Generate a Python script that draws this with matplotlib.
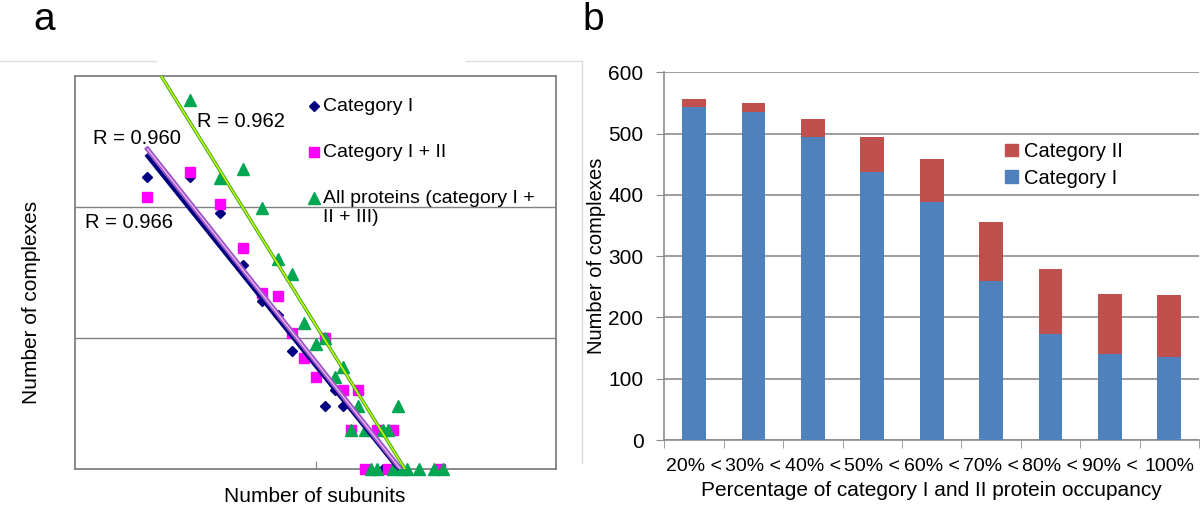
import numpy as np
import matplotlib
matplotlib.use('Agg')
import matplotlib.pyplot as plt
from matplotlib.lines import Line2D
from matplotlib.patches import Patch

plt.rcParams['font.family'] = ['Liberation Sans', 'DejaVu Sans']

# panel a: number of complexes vs number of subunits (log-log)
cat1_x = [2, 3, 4, 5, 6, 7, 8, 11, 12, 13, 16, 19, 22]
cat1_y = [170, 170, 90, 36, 19, 15, 8, 3, 4, 3, 1, 1, 1]
cat12_x = [2, 3, 4, 5, 6, 7, 8, 9, 10, 11, 13, 14, 15, 16, 18, 20, 21, 33]
cat12_y = [119, 186, 106, 49, 22, 21, 11, 7, 5, 10, 4, 2, 4, 1, 2, 1, 2, 1]
all_x = [3, 4, 5, 6, 7, 8, 9, 10, 11, 12, 13, 14, 15, 16, 17, 18, 19, 20,
         21, 22, 23, 24, 27, 31, 34]
all_y = [656, 167, 195, 99, 40, 31, 13, 9, 10, 5, 6, 2, 3, 2, 1, 1, 2, 2,
         1, 3, 1, 1, 1, 1, 1]

# power trendlines y = 10**loga * x**b
fit_loga = [3.078, 3.142, 4.061]
fit_b = [-2.288, -2.322, -2.96]
fit_r = ['R = 0.966', 'R = 0.960', 'R = 0.962']

# panel b: stacked bars
occ_labels = ['20% <', '30% <', '40% <', '50% <', '60% <', '70% <', '80% <',
              '90% <', '100%']
cat1_n = [543, 535, 494, 437, 389, 259, 173, 140, 136]
cat2_n = [13, 15, 30, 57, 69, 96, 106, 99, 100]

W, H = 1200, 508
fig = plt.figure(figsize=(12, 5.08), dpi=100)

# ---------------- panel a ----------------
ax = fig.add_axes([75 / W, 1 - 469 / H, 481 / W, 393 / H])
ax.set_xscale('log')
ax.set_yscale('log')
ax.set_xlim(1, 100)
ax.set_ylim(1, 1000)

navy, mag, grn = '#000080', '#ff00ff', '#00a651'
ax.plot(cat1_x, cat1_y, 'D', color=navy, ms=5.5, ls='none', clip_on=False, zorder=3)
ax.plot(cat12_x, cat12_y, 's', color=mag, ms=6.8, ls='none', clip_on=False, zorder=4)
ax.plot(all_x, all_y, '^', color=grn, ms=8.5, ls='none', clip_on=False, zorder=5)

xs = np.logspace(np.log10(2), np.log10(40), 200)
lines = [10 ** (a + b * np.log10(xs)) for a, b in zip(fit_loga, fit_b)]
ax.plot(xs, lines[0], color=navy, lw=3, zorder=6)
ax.plot(xs, lines[1], color='#9b59c6', lw=3.5, zorder=6)
ax.plot(xs, lines[1], color='#ffc0ff', lw=0.8, zorder=6)
ax.plot(xs, lines[2], color='#33a02c', lw=2.4, zorder=6)
ax.plot(xs, lines[2], color='#ccff00', lw=1.1, zorder=6)

ax.text(0.021, 0.626, fit_r[0], transform=ax.transAxes, fontsize=14.5, va='center')
ax.text(0.037, 0.840, fit_r[1], transform=ax.transAxes, fontsize=14.5, va='center')
ax.text(0.254, 0.885, fit_r[2], transform=ax.transAxes, fontsize=14.5, va='center')

ax.set_yticks([10, 100])
ax.set_xticks([10])
ax.yaxis.grid(True, color='#808080', lw=1)
ax.tick_params(axis='y', length=0, labelleft=False, which='both')
ax.tick_params(axis='x', which='major', direction='in', length=6, color='#808080',
               labelbottom=False)
ax.tick_params(axis='x', which='minor', length=0, labelbottom=False)
for s in ax.spines.values():
    s.set_color('#808080')
    s.set_linewidth(1.3)

# legend of panel a, laid out by hand so the marker sits on the first line
leg_mk = [('D', navy, 5), ('s', mag, 6.5), ('^', grn, 8)]
leg_txt = ['Category I', 'Category I + II', 'All proteins (category I +\nII + III)']
leg_y = [105.7, 151.7, 197.7]
for (m, c, s), t, yy in zip(leg_mk, leg_txt, leg_y):
    fig.add_artist(Line2D([314 / W], [1 - yy / H], marker=m, color=c, ms=s, ls='none'))
    fig.text(323 / W, 1 - (yy - 7.5) / H, t, fontsize=14, va='top',
             linespacing=1.15)

fig.text(315 / W, 1 - 497 / H, 'Number of subunits', fontsize=15, ha='center', va='center')
fig.text(32 / W, 1 - 302 / H, 'Number of complexes', fontsize=15, rotation=90,
         ha='center', va='center')

# ---------------- panel b ----------------
bx = fig.add_axes([664.3 / W, 1 - 440 / H, 534.7 / W, 367.7 / H])
pos = np.arange(len(occ_labels))
blue, red = '#4f81bd', '#c0504d'
bx.bar(pos, cat1_n, width=0.4, color=blue, zorder=3)
bx.bar(pos, cat2_n, width=0.4, bottom=cat1_n, color=red, zorder=3)
bx.set_xlim(-0.5, len(occ_labels) - 0.5)
bx.set_ylim(0, 600)
bx.set_yticks(range(0, 601, 100))
bx.yaxis.grid(True, color='#8c8c8c', lw=1.2, zorder=0)
bx.set_xticks(pos)
bx.set_xticklabels(occ_labels)
bx.set_xticks(np.arange(-0.5, len(occ_labels)), minor=True)
bx.tick_params(axis='x', which='major', length=0, labelsize=14, pad=13)
bx.tick_params(axis='x', which='minor', length=6, color='#8c8c8c', direction='out')
bx.tick_params(axis='y', length=6, color='#8c8c8c', labelsize=15, pad=9)
for side in ['top', 'right']:
    bx.spines[side].set_visible(False)
for side in ['left', 'bottom']:
    bx.spines[side].set_color('#8c8c8c')
    bx.spines[side].set_linewidth(1.2)

bh = [Patch(color=red), Patch(color=blue)]
bx.legend(bh, ['Category II', 'Category I'], loc='upper left',
          bbox_to_anchor=(0.638, 0.81), frameon=False, fontsize=14.5,
          borderaxespad=0, borderpad=0, handlelength=0.6, handleheight=0.6,
          handletextpad=0.3, labelspacing=0.38)

fig.text(931.6 / W, 1 - 491 / H, 'Percentage of category I and II protein occupancy',
         fontsize=15, ha='center', va='center')
fig.text(596 / W, 1 - 256 / H, 'Number of complexes', fontsize=14.5, rotation=90,
         ha='center', va='center')

# panel letters and faint outer border of panel a
fig.text(33 / W, 1 - 29.5 / H, 'a', fontsize=28, va='baseline')
fig.text(582 / W, 1 - 29.5 / H, 'b', fontsize=28, va='baseline')
for xx, yy in [([0, 156], [60.5, 60.5]), ([466, 582], [60.5, 60.5]),
               ([582, 582], [60.5, 463])]:
    fig.add_artist(Line2D([v / W for v in xx], [1 - v / H for v in yy],
                          color='#dddddd', lw=1))

fig.savefig('out.png', dpi=100)
